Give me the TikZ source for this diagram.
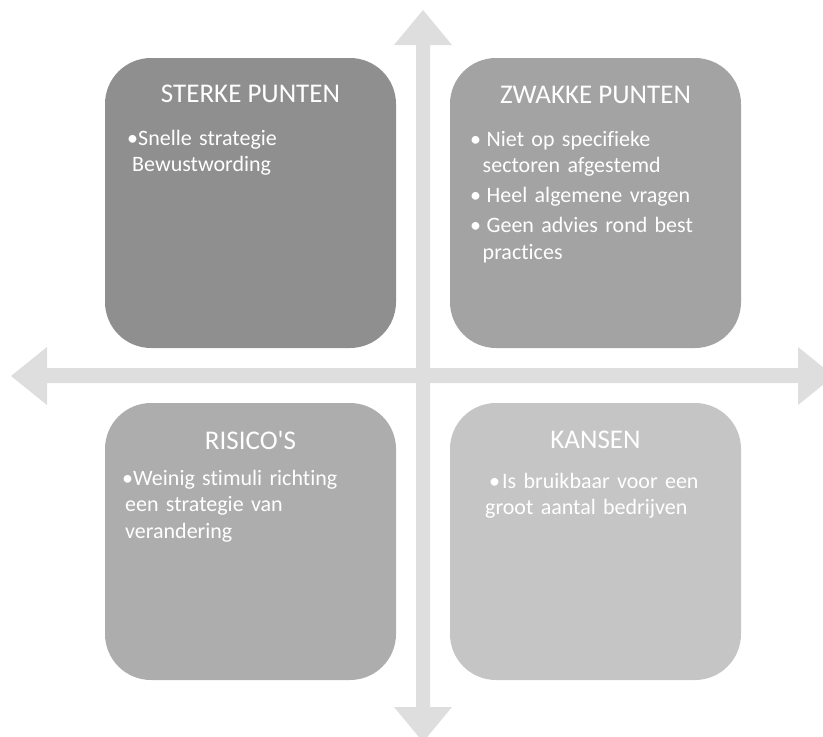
\documentclass[tikz,border=0pt]{standalone}
\usepackage{fontspec}
\setmainfont{Carlito}[Ligatures={TeX,NoCommon}]
\usetikzlibrary{positioning}

\definecolor{pijlgrijs}{RGB}{222,222,222}
\definecolor{sterkegrijs}{RGB}{143,143,143}
\definecolor{zwakkegrijs}{RGB}{163,163,163}
\definecolor{risicogrijs}{RGB}{173,173,173}
\definecolor{kansengrijs}{RGB}{197,197,197}

\newcommand{\punt}[1][11pt]{\makebox[#1][l]{•}}

\tikzset{
  vak/.style={rounded corners=46pt, inner sep=0pt, outer sep=0pt, minimum width=291pt},
  kop/.style={text=white, inner sep=0pt, font=\fontsize{27}{32}\selectfont},
  lijst/.style={text=white, inner sep=0pt, anchor=north west, align=left,
    text width=270pt, font=\fontsize{22}{26.5}\selectfont}
}

\begin{document}
\begin{tikzpicture}[x=1pt,y=-1pt]
  \useasboundingbox (0,0) rectangle (823,737);

  % kruis van pijlen
  \begin{scope}
    \clip (0,0) rectangle (823,737);
    \fill[pijlgrijs] (423,10) -- (452,45) -- (430,45) -- (430,707) -- (452,707)
      -- (423,742) -- (394,707) -- (416,707) -- (416,45) -- (394,45) -- cycle;
    \fill[pijlgrijs] (11,376) -- (47,347) -- (47,368) -- (798,368) -- (798,347)
      -- (834,376) -- (798,405) -- (798,383) -- (47,383) -- (47,405) -- cycle;
  \end{scope}

  % de vier vakken
  \node[vak, fill=sterkegrijs, minimum height=290pt] (sterke) at (250.5,203) {};
  \node[vak, fill=zwakkegrijs, minimum height=290pt] (zwakke) at (595.5,203) {};
  \node[vak, fill=risicogrijs, minimum height=277pt] (risicos) at (250.5,541.5) {};
  \node[vak, fill=kansengrijs, minimum height=277pt] (kansen) at (595.5,541.5) {};

  % koppen
  \node[kop] (sterkekop) at ([yshift=-36pt]sterke.north) {STERKE PUNTEN};
  \node[kop] (zwakkekop) at ([yshift=-37pt]zwakke.north) {ZWAKKE PUNTEN};
  \node[kop] (risicokop) at ([yshift=-37pt]risicos.north) {RISICO\textquotesingle S};
  \node[kop] (kansenkop) at ([yshift=-37pt]kansen.north) {KANSEN};

  % punten
  \node[lijst] (sterkelijst) at (127,130)
    {\punt Snelle strategie\\ \hspace*{5pt}Bewustwording};
  \node[lijst] (zwakkelijst) at (470,131)
    {\punt[16.5pt]Niet op specifieke\\ \hspace*{12.5pt}sectoren afgestemd\\[3.5pt]
     \punt[16.5pt]Heel algemene vragen\\[3.5pt]
     \punt[16.5pt]Geen advies rond best\\ \hspace*{12.5pt}practices};
  \node[lijst] (risicolijst) at (122,470)
    {\punt Weinig stimuli richting\\ \hspace*{3pt}een strategie van\\ \hspace*{3pt}verandering};
  \node[lijst] (kansenlijst) at (485,473)
    {\hspace*{4pt}\makebox[13pt][l]{•}Is bruikbaar voor een\\ groot aantal bedrijven};
\end{tikzpicture}
\end{document}
